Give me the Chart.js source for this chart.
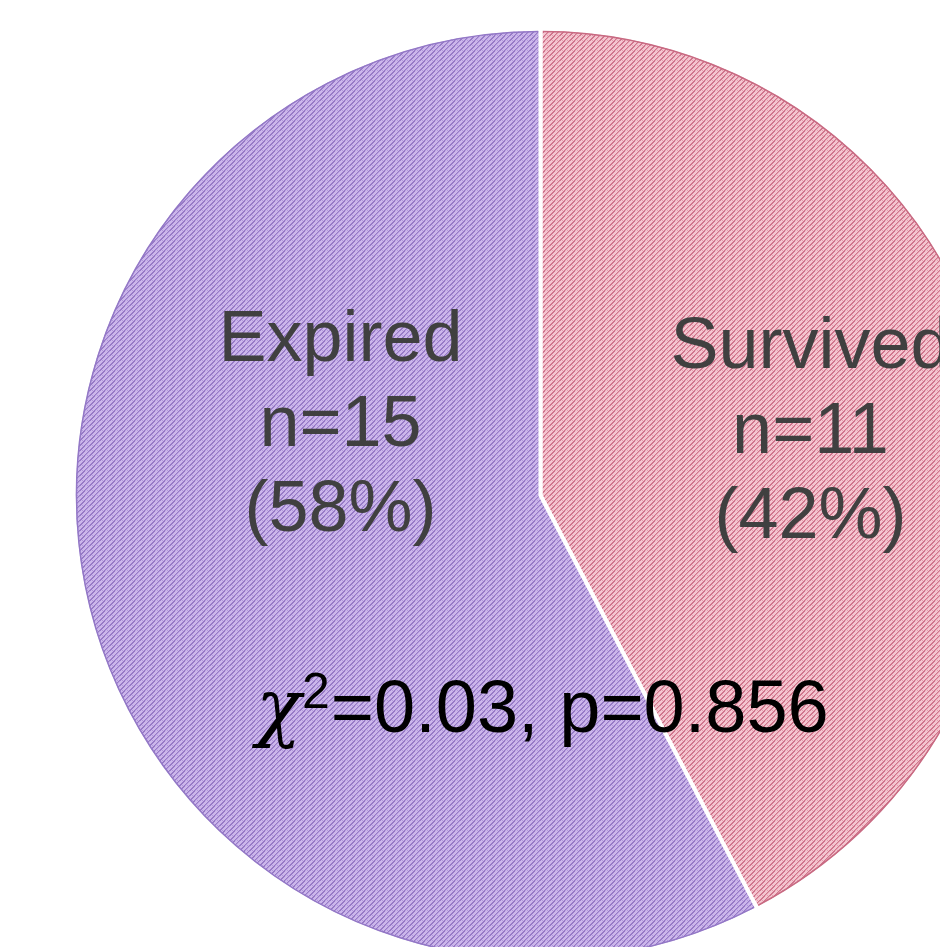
<!DOCTYPE html>
<html>
<head>
<meta charset="utf-8">
<script src="https://cdn.jsdelivr.net/npm/chart.js@4.4.1/dist/chart.umd.min.js"></script>
<style>
  html, body { margin: 0; padding: 0; background: #ffffff; overflow: hidden; width: 940px; height: 947px; }
  #wrap { position: absolute; left: 72px; top: 27px; width: 937px; height: 937px; }
</style>
</head>
<body>
<div id="wrap"><canvas id="pie" width="937" height="937"></canvas></div>
<script>
// Outcome groups and counts
const categories = ['Survived', 'Expired'];
const counts = [11, 15];
const percentLabels = ['(42%)', '(58%)'];
const statText = '=0.03, p=0.856';

// Hatched fills: light base with darker upward diagonals
function hatch(light, mid, dark) {
  const c = document.createElement('canvas');
  c.width = 10; c.height = 10;
  const g = c.getContext('2d');
  for (let y = 0; y < 10; y++) {
    for (let x = 0; x < 10; x++) {
      const k = (x + y) % 5;
      let col = light;
      if (k === 0) col = dark;
      else if (k === 1) col = ((x + 2 * y) % 10 < 5) ? dark : mid;
      else if (k === 3 && (x % 5 === 0)) col = mid;
      g.fillStyle = col;
      g.fillRect(x, y, 1, 1);
    }
  }
  return g.createPattern(c, 'repeat');
}
const ctx = document.getElementById('pie').getContext('2d');
const pinkFill = hatch('#f4c6d0', '#e59eae', '#d0758d');
const purpleFill = hatch('#ccb7eb', '#b298dc', '#977ac6');
const edgeColors = ['#c86a82', '#9378c6'];

// Slice labels and the test statistic drawn on top of the pie
const labelPlugin = {
  id: 'sliceText',
  afterDatasetsDraw(chart) {
    const g = chart.ctx;
    const arcs = chart.getDatasetMeta(0).data;
    const cx = arcs[0].x, cy = arcs[0].y;
    g.save();
    // thin darker rim on each slice's outer edge
    arcs.forEach((a, i) => {
      g.beginPath();
      g.arc(cx, cy, a.outerRadius - 2.5, a.startAngle + 0.005, a.endAngle - 0.005);
      g.strokeStyle = edgeColors[i];
      g.lineWidth = 1.5;
      g.stroke();
    });

    g.fillStyle = '#404040';
    g.textAlign = 'center';
    g.textBaseline = 'alphabetic';
    g.font = '72px "Liberation Sans", Arial, sans-serif';
    const place = [
      { dx: 270, dy: -128 },   // Survived
      { dx: -200, dy: -135 }   // Expired
    ];
    categories.forEach((name, i) => {
      const x = cx + place[i].dx, y = cy + place[i].dy;
      g.fillText(name, x, y);
      g.fillText('n=' + counts[i], x, y + 85);
      g.fillText(percentLabels[i], x, y + 170);
    });

    // chi-square line
    g.fillStyle = '#000000';
    g.textAlign = 'left';
    const base = cy + 236;
    g.font = 'italic 74px "DejaVu Serif", "Liberation Serif", serif';
    const wChi = g.measureText('\u03C7').width;
    g.font = '50px "Liberation Sans", Arial, sans-serif';
    const wSup = g.measureText('2').width;
    g.font = '74px "Liberation Sans", Arial, sans-serif';
    const wMain = g.measureText(statText).width;
    const total = wChi + 1 + wSup + 1 + wMain;
    let x = cx + 2 - total / 2;
    g.font = 'italic 74px "DejaVu Serif", "Liberation Serif", serif';
    g.fillText('\u03C7', x, base);
    x += wChi + 1;
    g.font = '50px "Liberation Sans", Arial, sans-serif';
    g.fillText('2', x, base - 24);
    x += wSup + 1;
    g.font = '74px "Liberation Sans", Arial, sans-serif';
    g.fillText(statText, x, base);
    g.restore();
  }
};

new Chart(ctx, {
  type: 'pie',
  data: {
    labels: categories,
    datasets: [{
      data: counts,
      backgroundColor: [pinkFill, purpleFill],
      borderColor: '#ffffff',
      borderWidth: 4
    }]
  },
  options: {
    responsive: false,
    devicePixelRatio: 1,
    animation: false,
    layout: { padding: 0 },
    plugins: {
      legend: { display: false },
      tooltip: { enabled: false }
    }
  },
  plugins: [labelPlugin]
});
</script>
</body>
</html>
